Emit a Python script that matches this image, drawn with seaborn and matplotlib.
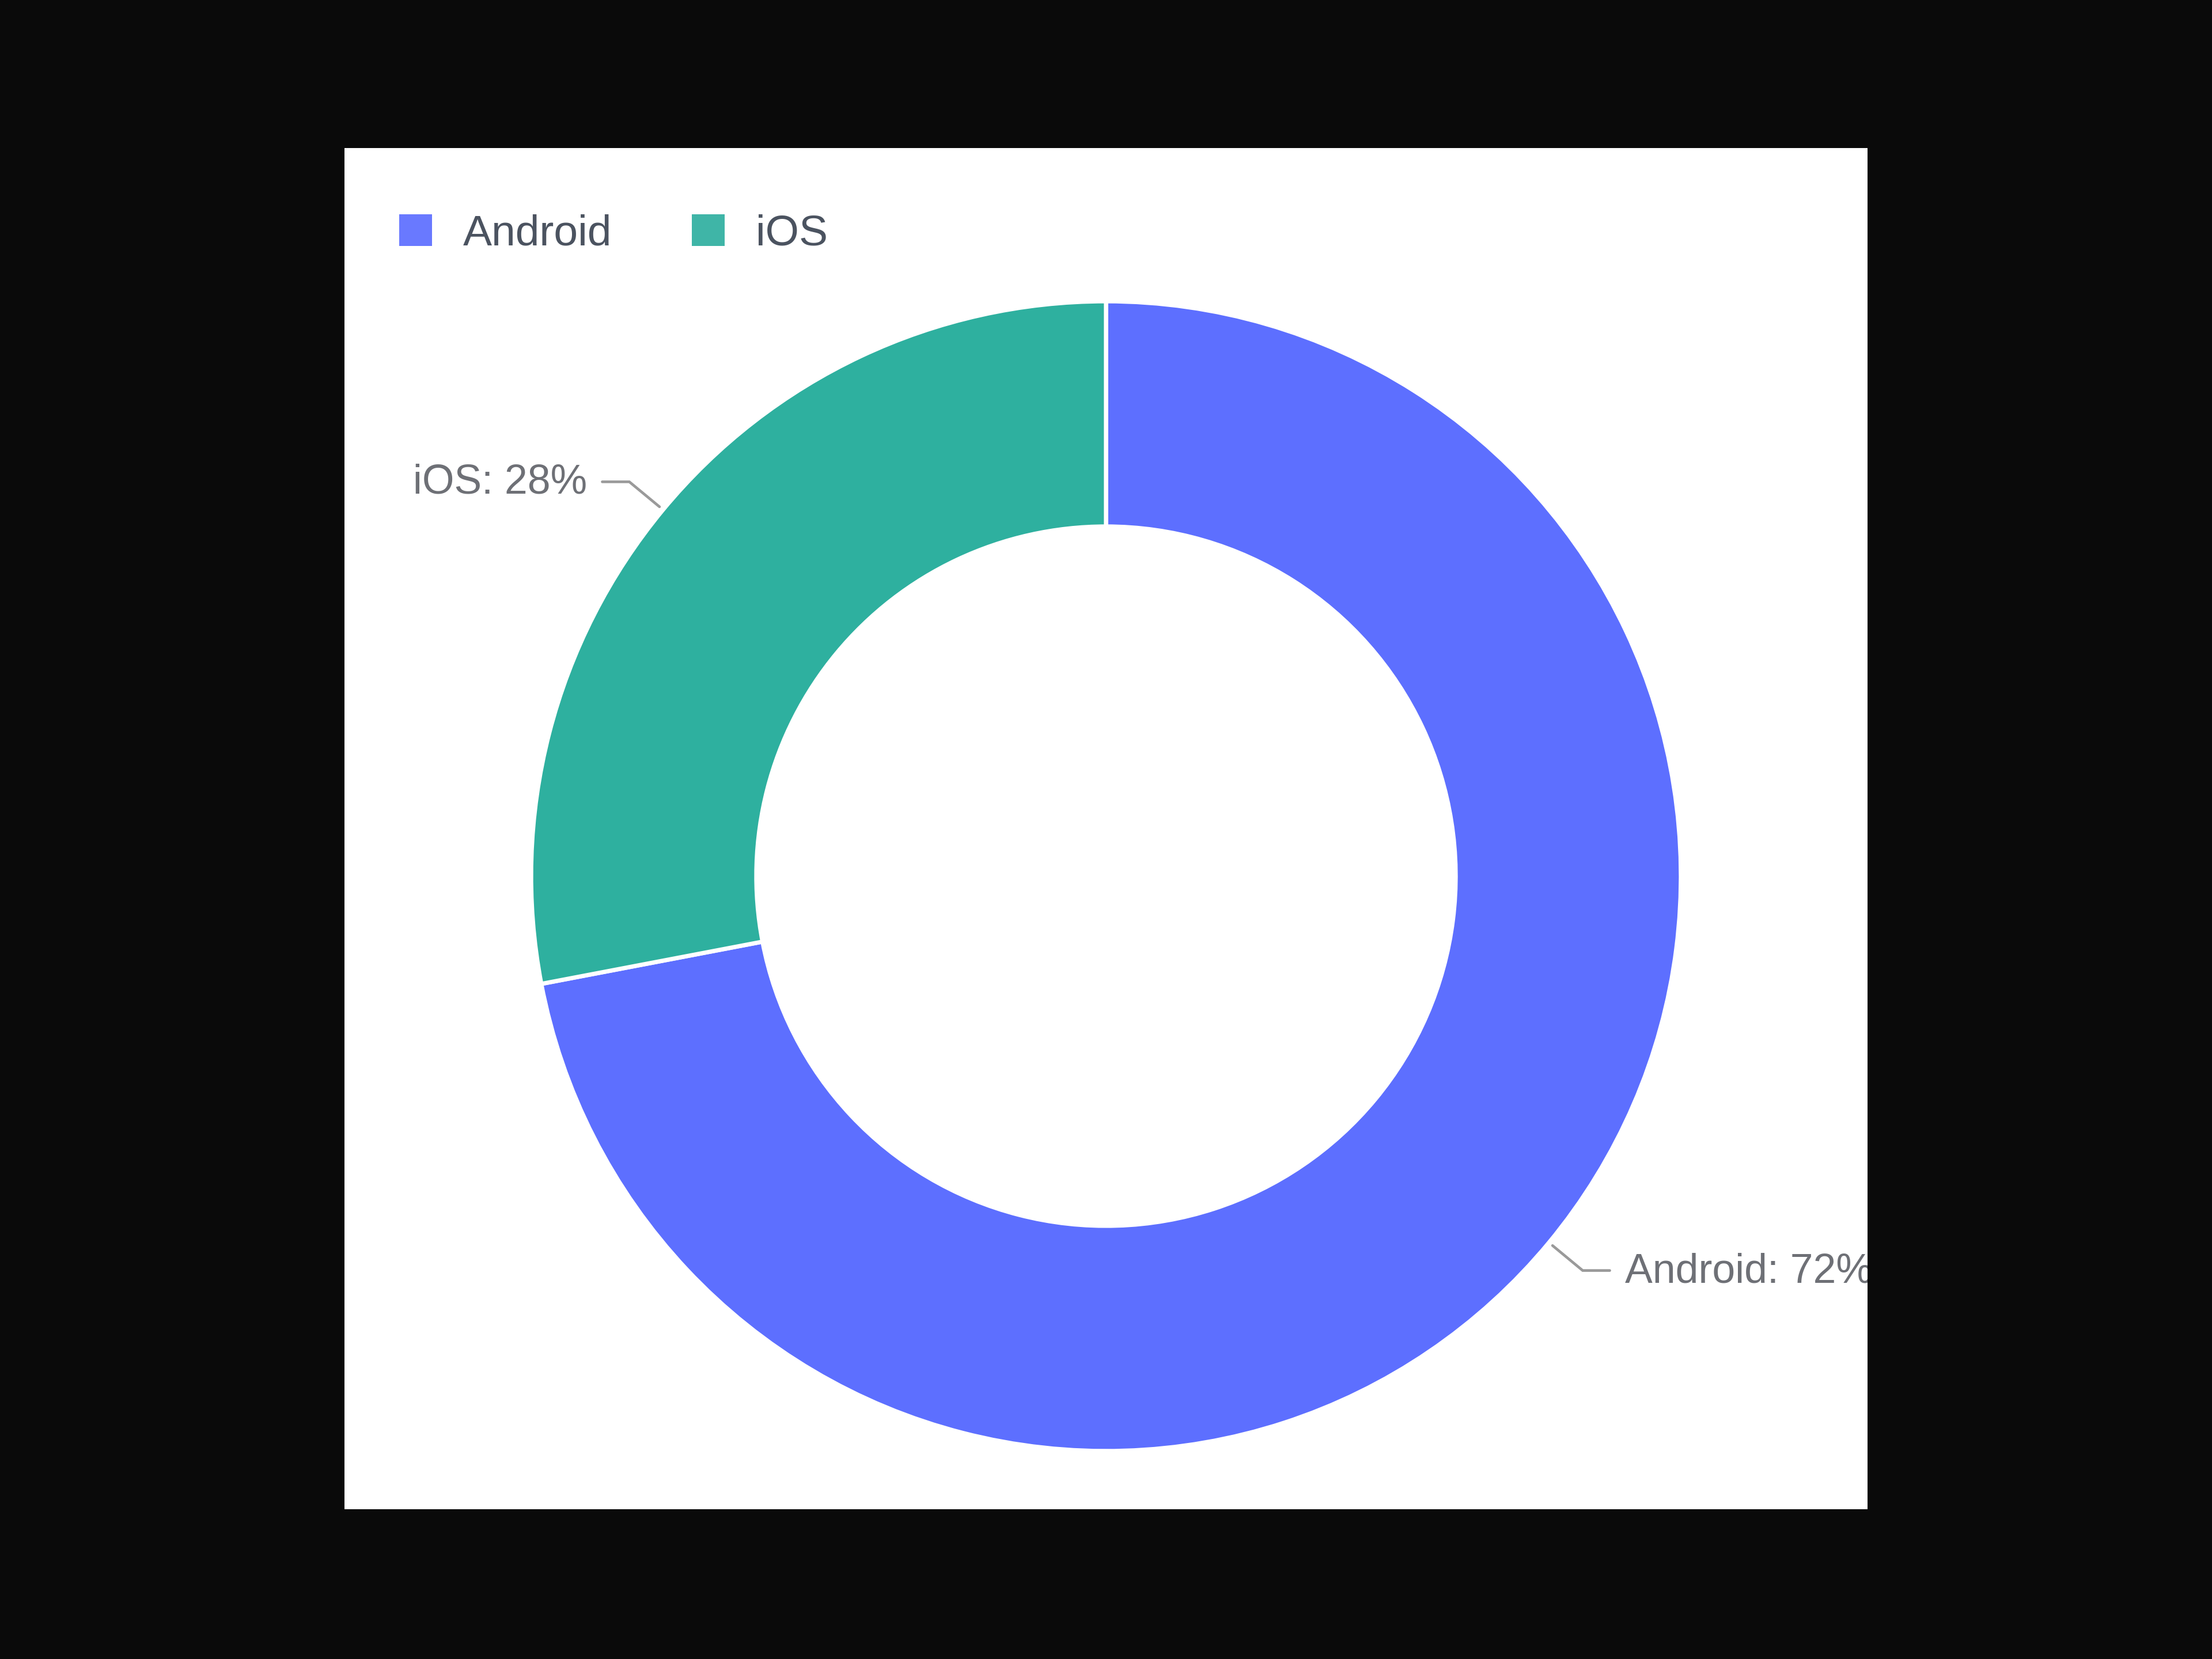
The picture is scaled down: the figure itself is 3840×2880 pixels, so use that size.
import numpy as np
import matplotlib
matplotlib.use('Agg')
import matplotlib.pyplot as plt
from matplotlib.patches import Patch
import seaborn as sns

# ── datos ────────────────────────────────────────────────────────────────────
plataformas = ['Android', 'iOS']
porcentajes = [72, 28]
colores_arco = ['#5D6FFF', '#2EB09F']
colores_leyenda = ['#6979FF', '#3FB5A7']

sns.set_theme(style='white')
plt.rcParams['font.family'] = ['Liberation Sans', 'DejaVu Sans']

FONDO = '#0A0A0A'
TEXTO_LEYENDA = '#4B5360'
TEXTO_ETIQ = '#6E7076'
GUIA = '#9A9A9A'

# lienzo negro con panel blanco (unidades del eje = píxeles)
W, H = 2644, 2363
fig = plt.figure(figsize=(16, 12), dpi=240)
fig.patch.set_facecolor(FONDO)
ax = fig.add_axes([598 / 3840, 260 / 2880, W / 3840, H / 2880])
ax.set_facecolor('white')

cx, cy = 1322, 1099
R_ext, R_int = 998, 607

cunas, _ = ax.pie(porcentajes, colors=colores_arco, startangle=90, counterclock=False,
                  center=(cx, cy), radius=R_ext, frame=True,
                  wedgeprops=dict(width=R_ext - R_int, edgecolor='white', linewidth=2.2))
ax.set_aspect('auto')
ax.set_xlim(0, W)
ax.set_ylim(0, H)
ax.set_xticks([]); ax.set_yticks([])
for sp in ax.spines.values():
    sp.set_visible(False)

# etiquetas con líneas guía
for cuna, nombre, val in zip(cunas, plataformas, porcentajes):
    ang = np.deg2rad((cuna.theta1 + cuna.theta2) / 2)
    c, s = np.cos(ang), np.sin(ang)
    p1 = (cx + (R_ext + 8) * c, cy + (R_ext + 8) * s)
    p2 = (cx + (R_ext + 76) * c, cy + (R_ext + 76) * s)
    lado = 1 if c >= 0 else -1
    p3 = (p2[0] + lado * 47, p2[1])
    ax.plot([p1[0], p2[0], p3[0]], [p1[1], p2[1], p3[1]], color=GUIA, lw=1.4,
            solid_joinstyle='miter')
    ax.text(p3[0] + lado * 26, p3[1] - 2, f'{nombre}: {val}%', fontsize=21.5, color=TEXTO_ETIQ,
            ha='left' if lado > 0 else 'right', va='center', clip_on=True)

# leyenda
manejadores = [Patch(facecolor=col, edgecolor='none') for col in colores_leyenda]
ax.legend(manejadores, plataformas, loc='center left', bbox_to_anchor=(95, 2214),
          bbox_transform=ax.transData, ncol=2, frameon=False, fontsize=22.5,
          labelcolor=TEXTO_LEYENDA, handlelength=0.76, handleheight=0.76,
          handletextpad=0.72, columnspacing=1.85, borderpad=0, borderaxespad=0)

plt.savefig('out.png', dpi=240, facecolor=FONDO)
plt.close()
